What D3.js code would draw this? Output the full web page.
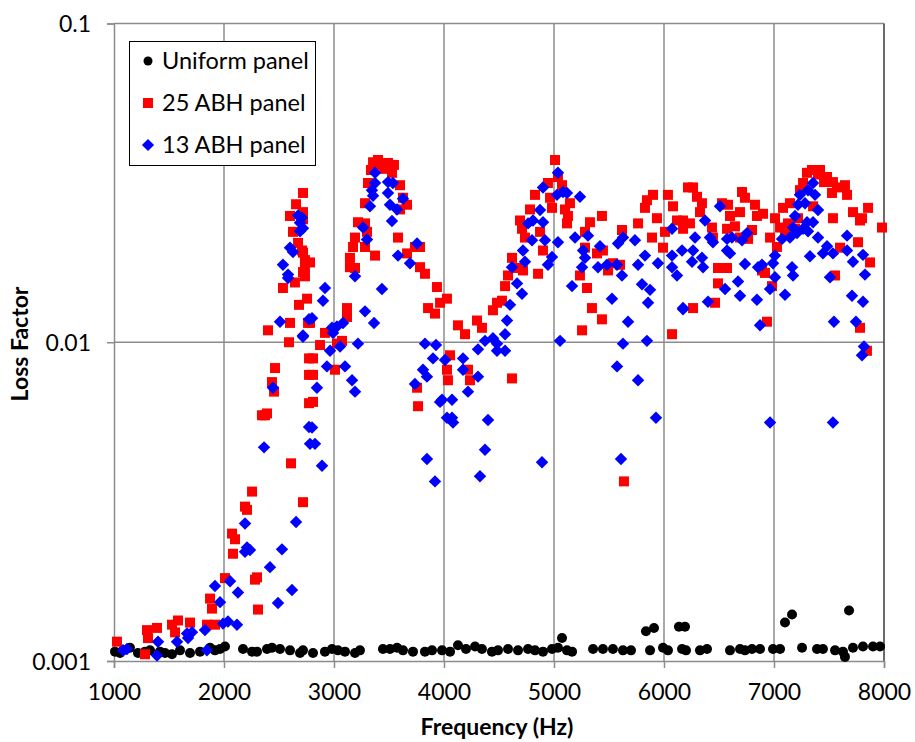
<!DOCTYPE html>
<html>
<head>
<meta charset="utf-8">
<script src="https://cdn.jsdelivr.net/npm/d3@7"></script>
<style>
  html, body { margin: 0; padding: 0; background: #fff; }
  svg { display: block; }
  text { font-family: Lato, "Open Sans", sans-serif; fill: #000; }
</style>
</head>
<body>
<svg id="chart" width="915" height="742"></svg>
<script>
// ---------- data (frequency Hz, loss factor) ----------
const seriesNames = ["Uniform panel", "25 ABH panel", "13 ABH panel"];
const xTicks = [1000, 2000, 3000, 4000, 5000, 6000, 7000, 8000];
const yTicks = [0.001, 0.01, 0.1];
const yTickLabels = ["0.001", "0.01", "0.1"];

const uniform = [
  [1009,0.00107],[1055,0.00106],[1082,0.00108],[1145,0.00110],[1218,0.00106],[1282,0.00107],
  [1327,0.00108],[1418,0.00107],[1464,0.00106],[1527,0.00105],[1600,0.00108],[1691,0.00106],
  [1782,0.00107],[1873,0.00110],[1918,0.00108],[1964,0.00109],[2009,0.00111],[2173,0.00109],
  [2255,0.00107],[2300,0.00107],[2391,0.00109],[2436,0.00110],[2509,0.00109],[2600,0.00108],
  [2691,0.00106],[2718,0.00108],[2809,0.00106],[2918,0.00107],[2982,0.00109],[3036,0.00108],
  [3100,0.00107],[3191,0.00106],[3236,0.00108],[3445,0.00109],[3509,0.00109],[3573,0.00110],
  [3627,0.00108],[3718,0.00107],[3827,0.00107],[3891,0.00108],[3982,0.00108],[4055,0.00107],
  [4127,0.00112],[4200,0.00109],[4282,0.00111],[4345,0.00109],[4436,0.00107],[4491,0.00108],
  [4582,0.00109],[4673,0.00108],[4764,0.00109],[4827,0.00108],[4900,0.00107],[4982,0.00109],
  [5036,0.00110],[5073,0.00118],[5118,0.00108],[5164,0.00107],[5355,0.00109],[5445,0.00109],
  [5536,0.00109],[5627,0.00108],[5700,0.00108],[5836,0.00124],[5873,0.00108],[5909,0.00127],
  [5991,0.00110],[6036,0.00108],[6136,0.00128],[6164,0.00109],[6191,0.00128],[6200,0.00108],
  [6327,0.00108],[6391,0.00109],[6600,0.00108],[6691,0.00109],[6736,0.00108],[6800,0.00109],
  [6873,0.00109],[6991,0.00109],[7055,0.00109],[7100,0.00132],[7164,0.00140],[7255,0.00110],
  [7391,0.00109],[7445,0.00109],[7555,0.00108],[7627,0.00107],[7645,0.00103],[7682,0.00144],
  [7718,0.00110],[7809,0.00111],[7900,0.00111],[7964,0.00111]
];

const abh25 = [
  [1027,0.00115],[1282,0.00105],[1300,0.00125],[1309,0.00118],[1391,0.00127],[1527,0.00130],
  [1582,0.00134],[1555,0.00123],[1691,0.00132],[1845,0.00130],[1918,0.00130],[1873,0.00157],
  [1891,0.00146],[2009,0.00182],[2082,0.00217],[2073,0.00251],[2100,0.00241],[2191,0.00305],
  [2209,0.00298],[2255,0.00340],[2282,0.00180],[2300,0.00183],[2309,0.00145],[2345,0.00590],
  [2391,0.00598],[2609,0.00417],[2718,0.00315],[2773,0.00644],
  [2718,0.0294],[2655,0.0271],[2600,0.0249],[2709,0.0250],[2627,0.0222],[2673,0.0205],
  [2718,0.0191],[2736,0.0171],[2736,0.0161],[2536,0.0148],[2645,0.0154],[2755,0.0137],
  [2682,0.0131],[2400,0.0109],[2600,0.0115],[2764,0.0115],[2591,0.0100],[2464,0.0083],
  [2436,0.0075],[2455,0.0070],[2373,0.0059],[2773,0.0089],[2773,0.0079],
  [2718,0.0256],[2718,0.0243],[2709,0.0194],[2736,0.0181],[2782,0.0178],[2718,0.0166],
  [2782,0.0115],[2918,0.0107],[2873,0.0098],[2809,0.0089],[2809,0.0079],[2809,0.0065],
  [3009,0.0082],[3073,0.0101],[3118,0.0128],[3118,0.0120],[3027,0.0099],[3145,0.0184],
  [3145,0.0172],[3191,0.0171],[3173,0.0199],[3191,0.0213],[3218,0.0238],[3282,0.0236],
  [3300,0.0222],[3282,0.0199],[3373,0.0187],[3282,0.0273],[3309,0.0316],[3355,0.0367],
  [3418,0.0360],[3491,0.0365],[3527,0.0340],[3336,0.0347],[3400,0.0373],[3455,0.0350],
  [3545,0.0360],[3600,0.0311],[3627,0.0284],[3664,0.0270],[3600,0.0261],[3582,0.0213],
  [3664,0.0190],[3736,0.0199],[3782,0.0199],[3782,0.0172],[3827,0.0164],[3936,0.0149],
  [4027,0.0137],[3855,0.0128],[3918,0.0123],[3964,0.0133],[4127,0.0113],[4191,0.0106],
  [4300,0.0117],[4345,0.0111],[4445,0.0126],[4482,0.0133],[4055,0.0091],[4027,0.0082],
  [4036,0.0076],[4218,0.0082],[4236,0.0076],[3764,0.0063],[3755,0.0072],
  [5009,0.0373],[5036,0.0330],[5073,0.0311],[4945,0.0316],[4827,0.0290],[4964,0.0284],
  [4982,0.0264],[5100,0.0261],[5145,0.0273],[5127,0.0249],[5118,0.0236],[4782,0.0261],
  [4691,0.0241],[4709,0.0227],[4736,0.0213],[4873,0.0222],[4900,0.0194],[4618,0.0184],
  [4582,0.0162],[4555,0.0150],[4664,0.0171],[4718,0.0168],[4527,0.0135],[4855,0.0164],
  [4618,0.0077],[5255,0.0109],[5345,0.0128],[5436,0.0118],[5300,0.0148],[5236,0.0162],
  [5327,0.0238],[5436,0.0249],[5282,0.0222],[5282,0.0198],[5391,0.0190],[5445,0.0194],
  [5491,0.0168],[5536,0.0177],[5600,0.0175],[5618,0.0225],[5764,0.0236],[5845,0.0279],
  [5827,0.0264],[5900,0.0290],[5936,0.0245],[5991,0.0198],[5891,0.0213],[6036,0.0290],
  [6082,0.0267],[6118,0.0241],[6173,0.0227],[6009,0.0222],[6073,0.0106],[6218,0.0306],
  [5636,0.00366],
  [6264,0.0306],[6300,0.0286],[6345,0.0273],[6327,0.0256],[6173,0.0241],[6236,0.0236],
  [6436,0.0229],[6527,0.0273],[6582,0.0270],[6600,0.0249],[6691,0.0256],[6709,0.0296],
  [6736,0.0284],[6827,0.0270],[6845,0.0249],[6900,0.0253],[6645,0.0231],[6800,0.0225],
  [6691,0.0213],[6764,0.0211],[6573,0.0227],[6445,0.0213],[6491,0.0171],[6573,0.0171],
  [6491,0.0153],[6464,0.0133],[6264,0.0128],[6891,0.0168],[6918,0.0165],[6982,0.0150],
  [6936,0.0116],[6964,0.0213],[7009,0.0245],[7082,0.0264],[7145,0.0273],[7055,0.0229],
  [7100,0.0220],[7127,0.0236],[7191,0.0227],[7218,0.0245],[7027,0.0199],[7300,0.0340],
  [7345,0.0347],[7418,0.0347],[7482,0.0330],[7536,0.0318],[7573,0.0306],[7645,0.0311],
  [7664,0.0290],[7527,0.0294],[7264,0.0316],[7236,0.0300],[7355,0.0267],[7536,0.0245],
  [7718,0.0256],[7800,0.0245],[7855,0.0264],[7782,0.0241],[7982,0.0229],[7764,0.0206],
  [7600,0.0198],[7873,0.0178],[7555,0.0162],[7782,0.0111],[7845,0.0094],[7400,0.0336],
  [7455,0.0318]
];

const abh13 = [
  [1082,0.00108],[1118,0.00109],[1400,0.00115],[1391,0.00104],[1573,0.00115],[1664,0.00122],
  [1673,0.00118],[1709,0.00123],[1827,0.00125],[1845,0.00108],[1991,0.00131],[2036,0.00133],
  [2118,0.00130],[1918,0.00172],[1964,0.00153],[2055,0.00178],[2127,0.00164],[2191,0.00270],
  [2209,0.00227],[2236,0.00223],[2191,0.00220],[2418,0.00197],[2527,0.00224],[2491,0.00152],
  [2618,0.00167],[2655,0.00273],[2364,0.00468],[2773,0.00542],[2782,0.00480],
  [2800,0.0054],[2827,0.0048],[2891,0.0041],[3845,0.0043],[3918,0.00366],[3964,0.0065],
  [4073,0.0058],[4082,0.0056],[4073,0.0066],[4400,0.0057],[4373,0.0046],[4327,0.0038],
  [4891,0.0042],[5609,0.0043],[5927,0.0058],[6964,0.0056],[7536,0.0056],
  [2673,0.0250],[2691,0.0237],[2691,0.0223],[2600,0.0198],[2627,0.0192],[2536,0.0175],
  [2582,0.0163],[2582,0.0159],[2509,0.0116],[2718,0.0105],[2773,0.0118],[2445,0.0072],
  [2709,0.0246],[2718,0.0228],[2918,0.0148],[2900,0.0135],[2800,0.0119],[2718,0.0104],
  [2982,0.0111],[3027,0.0112],[3082,0.0115],[2991,0.0107],[2964,0.0094],[3055,0.0097],
  [2936,0.0084],[3100,0.0084],[3164,0.0076],[3191,0.0070],[2845,0.0072],[3218,0.0099],
  [3282,0.0125],[3364,0.0115],[3436,0.0147],[3191,0.0161],[3300,0.0210],[3264,0.0229],
  [3327,0.0267],[3355,0.0288],[3373,0.0316],[3373,0.0340],[3345,0.0300],[3491,0.0318],
  [3536,0.0316],[3491,0.0294],[3509,0.0270],[3573,0.0261],[3627,0.0282],[3527,0.0240],
  [3582,0.0187],[3691,0.0177],[3755,0.0204],[3827,0.0099],[3927,0.0098],[3900,0.0089],
  [4009,0.0088],[3809,0.0082],[3845,0.0078],[3736,0.0074],[3982,0.0066],[4027,0.0058],
  [4173,0.0089],[4173,0.0082],[4309,0.0095],[4309,0.0078],[4218,0.0070],[4373,0.0101],
  [4445,0.0103],[4482,0.0099],
  [4482,0.0094],[4555,0.0094],[4555,0.0106],[4573,0.0117],[4600,0.0131],[4664,0.0153],
  [4709,0.0142],[4618,0.0172],[4718,0.0194],[4736,0.0179],[4800,0.0209],[4764,0.0236],
  [4809,0.0241],[4873,0.0260],[4900,0.0238],[4918,0.0209],[4982,0.0185],[4945,0.0175],
  [4900,0.0306],[5027,0.0290],[5036,0.0340],[5082,0.0296],[5118,0.0294],[5236,0.0286],
  [5036,0.0206],[5191,0.0213],[5309,0.0216],[5264,0.0194],[5282,0.0184],[5255,0.0172],
  [5164,0.0150],[5418,0.0200],[5400,0.0172],[5482,0.0175],[5573,0.0175],[5618,0.0162],
  [5527,0.0137],[5582,0.0204],[5627,0.0213],[5736,0.0209],[5673,0.0116],[5627,0.0099],
  [5573,0.0084],[5764,0.0076],[5845,0.0101],[5764,0.0175],[5827,0.0187],[5800,0.0152],
  [5873,0.0146],[5855,0.0133],[5945,0.0177],[6073,0.0227],[6073,0.0187],[6073,0.0172],
  [6118,0.0162],[6173,0.0128],[6164,0.0194],[5055,0.0101],
  [6509,0.0267],[6373,0.0241],[6282,0.0213],[6264,0.0194],[6255,0.0179],[6345,0.0184],
  [6355,0.0172],[6418,0.0213],[6445,0.0206],[6573,0.0211],[6618,0.0213],[6709,0.0209],
  [6755,0.0220],[6573,0.0194],[6600,0.0190],[6736,0.0176],[6855,0.0172],[6891,0.0175],
  [7009,0.0187],[6991,0.0177],[6673,0.0155],[6555,0.0147],[6691,0.0140],[6845,0.0136],
  [7009,0.0160],[6964,0.0147],[7100,0.0141],[6400,0.0134],[6173,0.0127],[6873,0.0113],
  [7164,0.0172],[7173,0.0162],[7073,0.0211],[7145,0.0213],[7173,0.0229],[7209,0.0220],
  [7264,0.0227],[7191,0.0249],[7218,0.0270],[7236,0.0290],[7282,0.0273],[7309,0.0300],
  [7355,0.0316],[7373,0.0290],[7300,0.0238],[7355,0.0238],[7309,0.0223],[7400,0.0260],
  [7400,0.0213],[7327,0.0186],[7445,0.0190],[7482,0.0200],[7536,0.0190],[7509,0.0160],
  [7664,0.0216],[7664,0.0194],[7718,0.0179],[7809,0.0188],[7827,0.0163],[7709,0.0140],
  [7809,0.0134],[7545,0.0116],[7745,0.0116],[7818,0.0097],[7800,0.0091]
];

const seriesColors = ["#000000", "#ff0000", "#0000ff"];

// ---------- layout ----------
const svg = d3.select("#chart");
const plot = { left: 114, right: 884, top: 23.5, bottom: 661 };

const x = d3.scaleLinear().domain([1000, 8000]).range([plot.left, plot.right]);
const y = d3.scaleLog().domain([0.001, 0.1]).range([plot.bottom, plot.top]);

const gridColor = "#8c8c8c";

// gridlines
const grid = svg.append("g");
grid.selectAll("line.vx").data(xTicks.slice(1, -1)).join("line")
  .attr("x1", d => x(d)).attr("x2", d => x(d))
  .attr("y1", plot.top).attr("y2", plot.bottom)
  .attr("stroke", gridColor).attr("stroke-width", 1.5);
grid.selectAll("line.hy").data(yTicks.slice(1)).join("line")
  .attr("x1", plot.left).attr("x2", plot.right)
  .attr("y1", d => y(d)).attr("y2", d => y(d))
  .attr("stroke", gridColor).attr("stroke-width", 1.5);
// right border
grid.append("line")
  .attr("x1", plot.right).attr("x2", plot.right)
  .attr("y1", plot.top).attr("y2", plot.bottom)
  .attr("stroke", "#3a3a3a").attr("stroke-width", 1.5);

// axes
const xAxis = d3.axisBottom(x).tickValues(xTicks).tickSize(7).tickPadding(16)
  .tickFormat(d3.format("d"));
const gx = svg.append("g").attr("transform", `translate(0,${plot.bottom})`).call(xAxis);
const yAxis = d3.axisLeft(y).tickValues(yTicks).tickSize(7).tickPadding(16)
  .tickFormat((d, i) => yTickLabels[i]);
const gy = svg.append("g").attr("transform", `translate(${plot.left},0)`).call(yAxis);

[gx, gy].forEach(g => {
  g.select(".domain").attr("stroke", gridColor).attr("stroke-width", 1.5);
  g.selectAll(".tick line").attr("stroke", gridColor).attr("stroke-width", 1.5);
  g.selectAll(".tick text").attr("font-family", "Lato, sans-serif")
    .attr("font-size", 23).attr("fill", "#000");
});
gy.selectAll(".tick text").attr("dy", "0.36em");

// axis titles
svg.append("text")
  .attr("x", 497).attr("y", 735)
  .attr("text-anchor", "middle")
  .attr("font-size", 23).attr("font-weight", "bold")
  .text("Frequency (Hz)");
svg.append("text")
  .attr("transform", "translate(28,344) rotate(-90)")
  .attr("text-anchor", "middle")
  .attr("font-size", 23).attr("font-weight", "bold")
  .text("Loss Factor");

// ---------- markers ----------
const marks = svg.append("g");
const circleSym = d3.symbol().type(d3.symbolCircle).size(Math.PI * 5 * 5);
const squareSym = d3.symbol().type(d3.symbolSquare).size(10 * 10);
const diamondSym = d3.symbol().type(d3.symbolSquare).size(8.8 * 8.8);

marks.append("g").selectAll("path").data(uniform).join("path")
  .attr("d", circleSym)
  .attr("transform", d => `translate(${x(d[0])},${y(d[1])})`)
  .attr("fill", seriesColors[0]);

marks.append("g").selectAll("path").data(abh25).join("path")
  .attr("d", squareSym)
  .attr("transform", d => `translate(${x(d[0])},${y(d[1])})`)
  .attr("fill", seriesColors[1]);

marks.append("g").selectAll("path").data(abh13).join("path")
  .attr("d", diamondSym)
  .attr("transform", d => `translate(${x(d[0])},${y(d[1])}) rotate(45)`)
  .attr("fill", seriesColors[2]);

// ---------- legend ----------
const lg = svg.append("g");
lg.append("rect")
  .attr("x", 129.5).attr("y", 41.5).attr("width", 186).attr("height", 124)
  .attr("fill", "#fff").attr("stroke", "#000").attr("stroke-width", 1);
const legendRows = [61, 103, 145];
const legendSyms = [
  d3.symbol().type(d3.symbolCircle).size(Math.PI * 4.5 * 4.5),
  d3.symbol().type(d3.symbolSquare).size(10 * 10),
  d3.symbol().type(d3.symbolSquare).size(8.6 * 8.6)
];
seriesNames.forEach((name, i) => {
  lg.append("path")
    .attr("d", legendSyms[i])
    .attr("transform", `translate(148,${legendRows[i]})${i === 2 ? " rotate(45)" : ""}`)
    .attr("fill", seriesColors[i]);
  lg.append("text")
    .attr("x", 162).attr("y", legendRows[i])
    .attr("dy", "0.36em")
    .attr("font-size", 23.5)
    .text(name);
});
</script>
</body>
</html>
